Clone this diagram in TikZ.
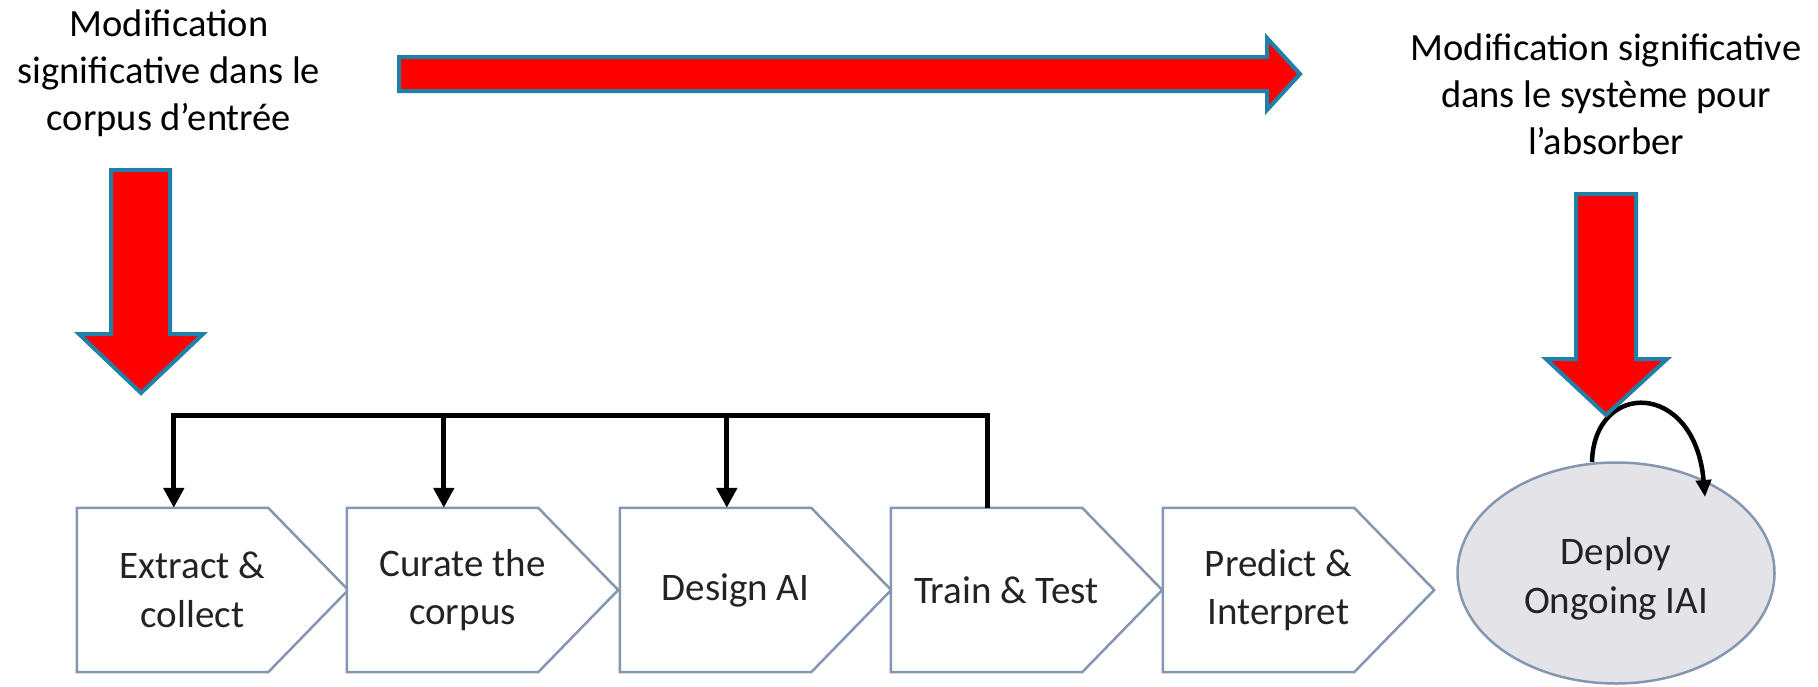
\documentclass[tikz,border=0pt]{standalone}
\usepackage{fontspec}
\setmainfont{Carlito}
\usetikzlibrary{arrows.meta,shapes.geometric,calc,backgrounds}
\definecolor{arrred}{RGB}{255,0,0}
\definecolor{arredge}{RGB}{31,128,168}
\definecolor{boxedge}{RGB}{132,150,176}
\definecolor{boxtext}{RGB}{35,35,35}
\definecolor{ellfill}{RGB}{228,228,232}
\begin{document}
\begin{tikzpicture}[x=1pt,y=-1pt,
  redarrow/.style={fill=arrred, draw=arredge, line width=4pt, line join=miter},
  toptext/.style={font=\fontsize{38.5}{47}\selectfont, align=center, text=black, inner sep=0pt},
  stage/.style={minimum width=231pt, minimum height=164pt, inner sep=0pt, draw=none,
    font=\fontsize{39}{48.5}\selectfont, align=center, text=boxtext},
  chevron/.style={draw=boxedge, line width=2.5pt, fill=white, line join=miter},
  fb/.style={line width=5pt, black, line join=miter},
  fbarrow/.style={fb, -{Triangle[width=20pt,length=20pt]}},
  loopar/.style={line width=4.5pt, black, -{Triangle[width=15pt,length=17pt]}}
]
\useasboundingbox (0,0) rectangle (1818,686);

% stage nodes (text centred 20px right of the rectangle part)
\node[stage] (b1) at (192.5,590) {Extract \&\\collect};
\node[stage] (b2) at (462.5,590) {Curate the\\corpus};
\node[stage] (b3) at (735.5,590) {Design AI};
\node[stage] (b4) at (1006.5,590) {Train \& Test};
\node[stage] (b5) at (1278.5,590) {Predict \&\\Interpret};

% chevron outlines behind the texts
\begin{scope}[on background layer]
\foreach \b in {b1,b2,b3,b4,b5}{
  \draw[chevron] (\b.north west) -- ($(\b.north east)+(-40,0)$) -- ($(\b.east)+(40,0)$)
     -- ($(\b.south east)+(-40,0)$) -- (\b.south west) -- cycle;
}
\end{scope}

% deploy ellipse
\node[ellipse, draw=boxedge, line width=2.5pt, fill=ellfill, minimum width=317pt,
  minimum height=221pt, inner sep=0pt, font=\fontsize{39}{48.5}\selectfont,
  align=center, text=boxtext] (dep) at (1616,573) {\rule{0pt}{39pt}Deploy\\Ongoing IAI};

% feedback connectors
\coordinate (bar) at (0,415);
\coordinate (t1) at ($(b1.north west)+(97,0)$);
\coordinate (t2) at ($(b2.north west)+(97,0)$);
\coordinate (t3) at ($(b3.north west)+(107,0)$);
\coordinate (t4) at ($(b4.north west)+(97,0)$);
\draw[fbarrow] (t4) -- (t4 |- bar) -- (t1 |- bar) -- (t1);
\draw[fbarrow] (t2 |- bar) -- (t2);
\draw[fbarrow] (t3 |- bar) -- (t3);

% self loop on deploy
\coordinate (ls) at ($(dep.center)+(-24,-111)$);
\coordinate (le) at ($(dep.center)+(89,-76)$);
\draw[loopar] (ls) .. controls ($(dep.center)+(-22,-193)$) and ($(dep.center)+(79,-193)$) .. (le);

% top texts
\node[toptext] (tl) at (169,73) {Modification\\significative dans le\\corpus d’entrée};
\node[toptext] (tr) at (1606,94) {Modification significative\\dans le système pour\\l’absorber};

% big red arrows
\draw[redarrow] (399,57) -- (1267,57) -- (1267,38) -- (1300,74) -- (1267,110) -- (1267,91) -- (399,91) -- cycle;
\draw[redarrow] (111,170) -- (170,170) -- (170,334) -- (203,334) -- (141,393) -- (79,334) -- (111,334) -- cycle;
\draw[redarrow] (1576,194) -- (1636,194) -- (1636,359) -- (1667,359) -- (1606,415) -- (1546,359) -- (1576,359) -- cycle;
\end{tikzpicture}
\end{document}
